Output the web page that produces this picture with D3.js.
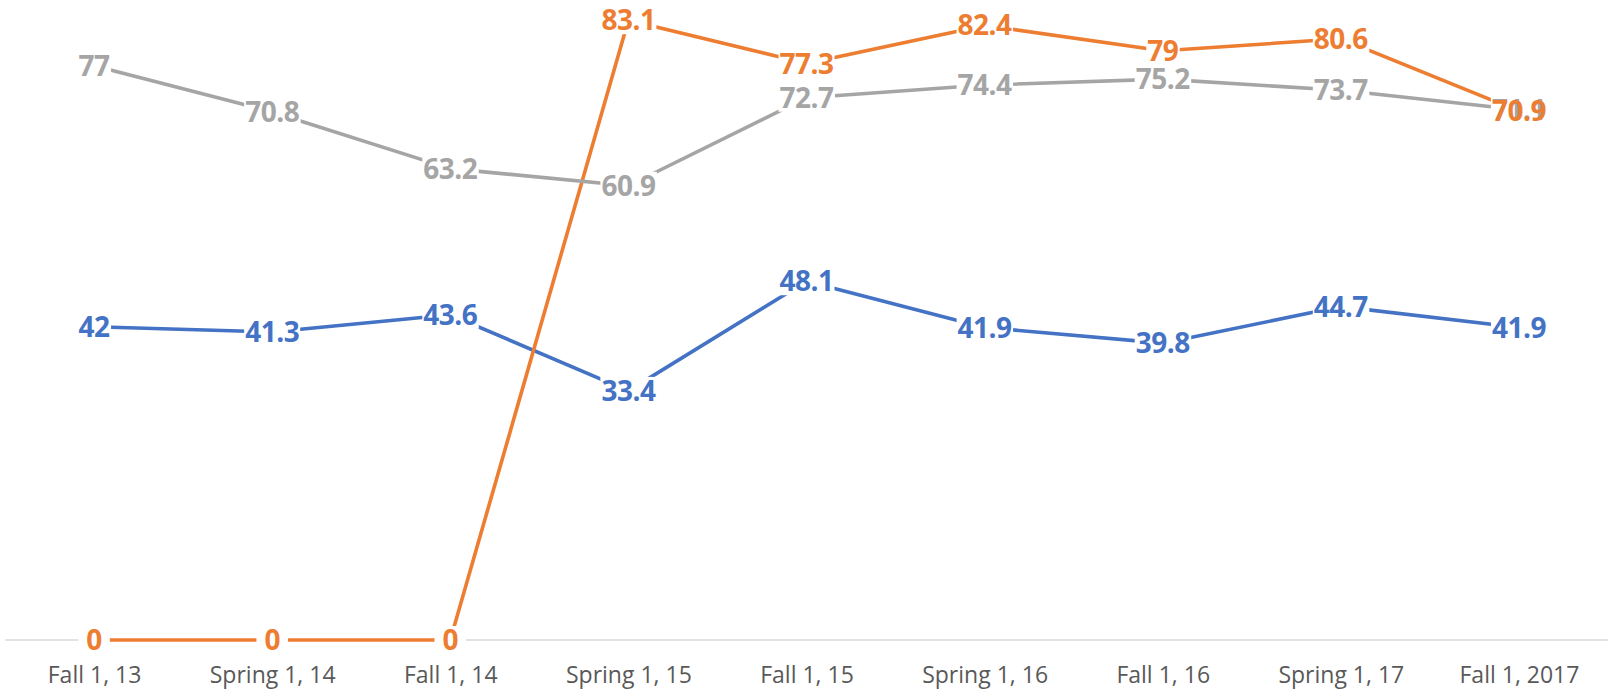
<!DOCTYPE html>
<html>
<head>
<meta charset="utf-8">
<script src="https://cdn.jsdelivr.net/npm/d3@7"></script>
<style>
  html, body { margin: 0; padding: 0; background: #fff; }
  svg { display: block; }
</style>
</head>
<body>
<svg id="chart" width="1613" height="692"></svg>
<script>
const categories = ["Fall 1, 13", "Spring 1, 14", "Fall 1, 14", "Spring 1, 15", "Fall 1, 15", "Spring 1, 16", "Fall 1, 16", "Spring 1, 17", "Fall 1, 2017"];
const seriesBlue = [42, 41.3, 43.6, 33.4, 48.1, 41.9, 39.8, 44.7, 41.9];
const seriesOrange = [0, 0, 0, 83.1, 77.3, 82.4, 79, 80.6, 70.9];
const seriesGray = [77, 70.8, 63.2, 60.9, 72.7, 74.4, 75.2, 73.7, 71.1];

const series = [
  { name: "blue", values: seriesBlue, color: "#4472C4" },
  { name: "orange", values: seriesOrange, color: "#ED7D31" },
  { name: "gray", values: seriesGray, color: "#A5A5A5" }
];

const svg = d3.select("#chart");
const x = d3.scalePoint().domain(categories).range([5, 1608]).padding(0.5);
const y = d3.scaleLinear().domain([0, 85]).range([640, 6]);

// category axis
const axis = svg.append("g")
  .attr("transform", `translate(0,${y(0)})`)
  .call(d3.axisBottom(x).tickSize(0).tickSizeOuter(0).tickPadding(27));
axis.select(".domain").attr("stroke", "#D9D9D9").attr("stroke-width", 1.5)
  .attr("d", `M5,0H1608`);
axis.selectAll("text")
  .attr("font-family", "'Open Sans', sans-serif")
  .attr("font-size", 23)
  .attr("fill", "#595959");

const line = d3.line().x((d, i) => x(categories[i])).y(d => y(d));

svg.append("g").selectAll("path")
  .data(series)
  .join("path")
  .attr("d", d => line(d.values))
  .attr("fill", "none")
  .attr("stroke", d => d.color)
  .attr("stroke-width", 3.6)
  .attr("stroke-linejoin", "round");

// labels: order so that orange sits over gray at the end
const labelOrder = [series[2], series[0], series[1]];
const rectG = svg.append("g");
const textG = svg.append("g");
labelOrder.forEach(s => {
  s.values.forEach((v, i) => {
    const t = textG.append("text")
      .attr("x", x(categories[i]))
      .attr("y", y(v))
      .attr("dy", "0.36em")
      .attr("text-anchor", "middle")
      .attr("font-family", "'Open Sans', sans-serif")
      .attr("font-weight", "bold")
      .attr("font-size", 28)
      .attr("fill", s.color)
      .attr("letter-spacing", "-0.5px")
      .text(String(v));
    const bb = t.node().getBBox();
    const padX = bb.width < 25 ? 8 : 1;
    rectG.append("rect")
      .attr("x", bb.x - padX)
      .attr("y", y(v) - 14)
      .attr("width", bb.width + 2 * padX)
      .attr("height", 28)
      .attr("fill", "#fff");
  });
});
</script>
</body>
</html>
